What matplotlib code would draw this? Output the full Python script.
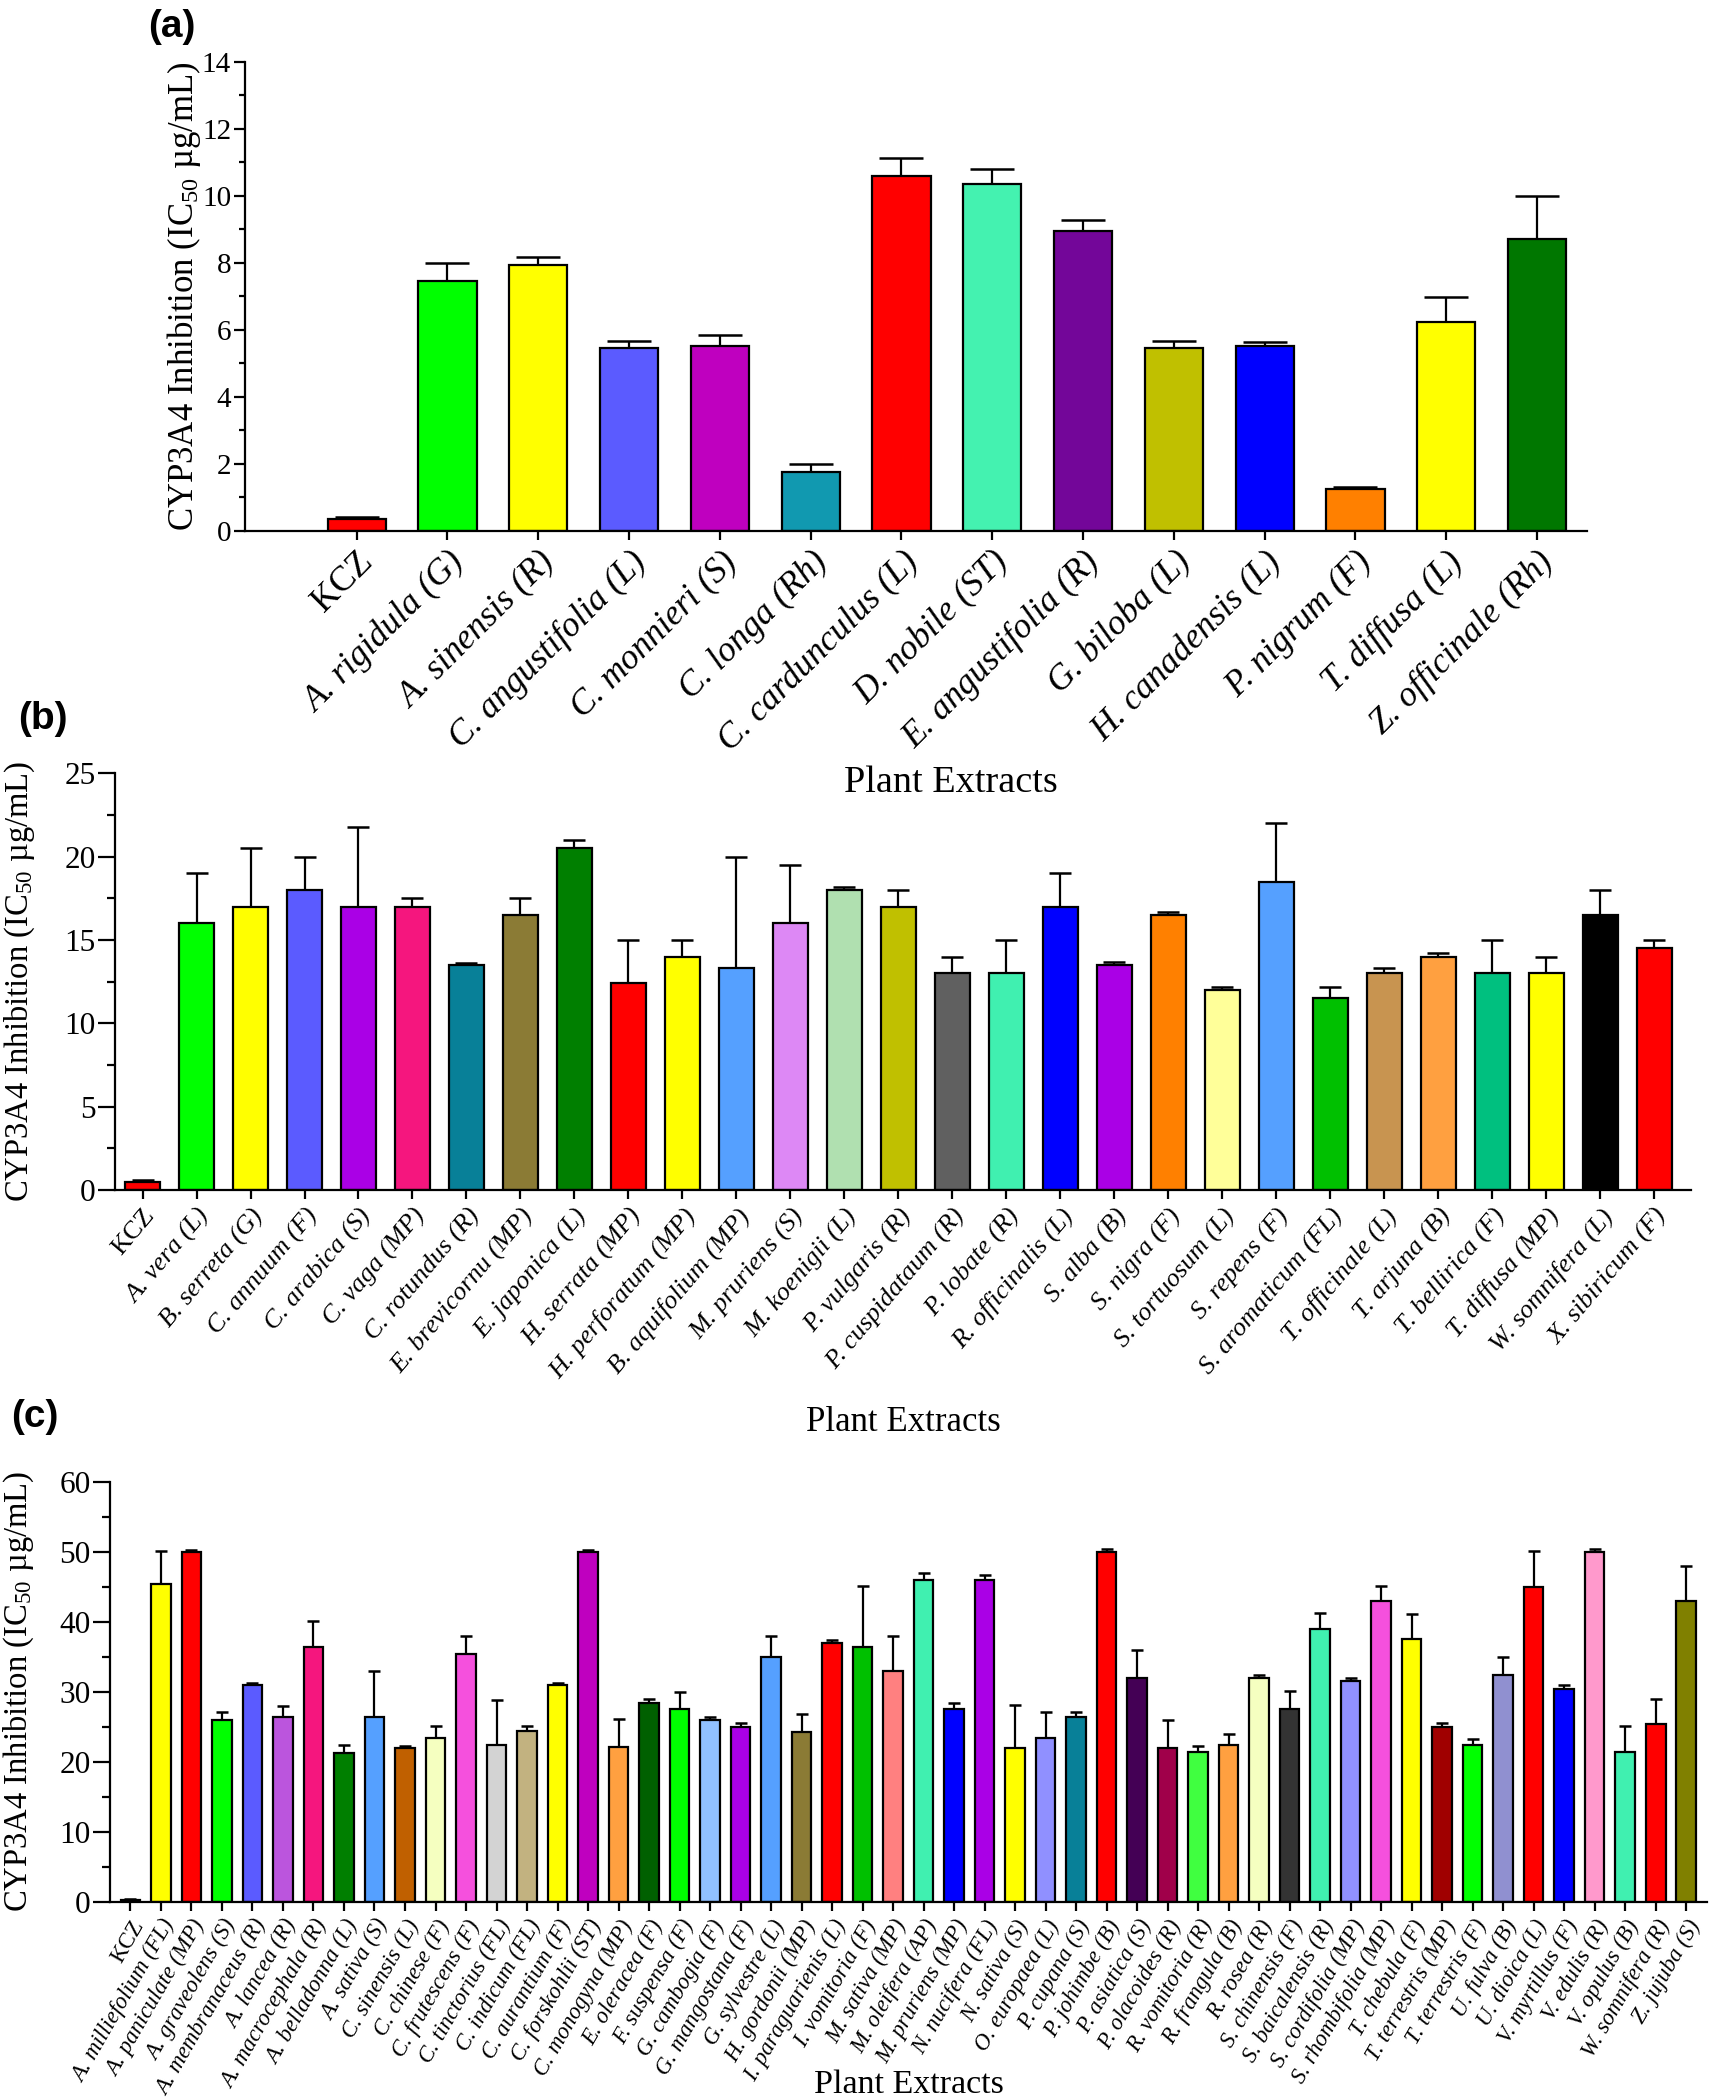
import numpy as np
import matplotlib
matplotlib.use('Agg')
import matplotlib.pyplot as plt
from matplotlib.ticker import MultipleLocator

plt.rcParams['font.family'] = ['Liberation Serif', 'DejaVu Serif']
plt.rcParams['mathtext.fontset'] = 'custom'
plt.rcParams['mathtext.rm'] = 'Liberation Serif'
plt.rcParams['mathtext.it'] = 'Liberation Serif:italic'

# %% panel (a)
names_a = ["KCZ", "A. rigidula (G)", "A. sinensis (R)", "C. angustifolia (L)", "C. monnieri (S)",
           "C. longa (Rh)", "C. cardunculus (L)", "D. nobile (ST)", "E. angustifolia (R)",
           "G. biloba (L)", "H. canadensis (L)", "P. nigrum (F)", "T. diffusa (L)", "Z. officinale (Rh)"]
ic50_a = [0.36, 7.45, 7.95, 5.45, 5.52, 1.76, 10.6, 10.35, 8.96, 5.45, 5.52, 1.25, 6.23, 8.7]
sd_a = [0.05, 0.55, 0.23, 0.23, 0.33, 0.23, 0.54, 0.44, 0.31, 0.23, 0.13, 0.05, 0.76, 1.29]
colors_a = ["#FF0000", "#00FF00", "#FFFF00", "#5B5BFF", "#BF00BF", "#1199B0", "#FF0000",
            "#44F2B0", "#730699", "#C0C000", "#0000FF", "#FF8000", "#FFFF00", "#007700"]

# %% panel (b)
names_b = ["KCZ", "A. vera (L)", "B. serreta (G)", "C. annuum (F)", "C. arabica (S)", "C. vaga (MP)",
           "C. rotundus (R)", "E. brevicornu (MP)", "E. japonica (L)", "H. serrata (MP)",
           "H. perforatum (MP)", "B. aquifolium (MP)", "M. pruriens (S)", "M. koenigii (L)",
           "P. vulgaris (R)", "P. cuspidataum (R)", "P. lobate (R)", "R. officinalis (L)",
           "S. alba (B)", "S. nigra (F)", "S. tortuosum (L)", "S. repens (F)", "S. aromaticum (FL)",
           "T. officinale (L)", "T. arjuna (B)", "T. bellirica (F)", "T. diffusa (MP)",
           "W. somnifera (L)", "X. sibiricum (F)"]
ic50_b = [0.5, 16, 17, 18, 17, 17, 13.5, 16.5, 20.5, 12.4, 14, 13.3, 16, 18, 17, 13, 13, 17,
          13.5, 16.5, 12, 18.5, 11.5, 13, 14, 13, 13, 16.5, 14.5]
sd_b = [0.1, 3, 3.5, 2, 4.8, 0.5, 0.1, 1, 0.5, 2.6, 1, 6.7, 3.5, 0.2, 1, 1, 2, 2, 0.2, 0.2,
        0.2, 3.5, 0.7, 0.3, 0.2, 2, 1, 1.5, 0.5]
colors_b = ["#FF0000", "#00FF00", "#FFFF00", "#5B5BFF", "#AA00E6", "#F5167E", "#088098",
            "#8B7B35", "#007F00", "#FF0000", "#FFFF00", "#55A0FF", "#DD88F5", "#B0E0B0",
            "#C0C000", "#606060", "#40F0B0", "#0000FF", "#AA00E6", "#FF8000", "#FFFF99",
            "#55A0FF", "#00C000", "#C89450", "#FFA040", "#00C07F", "#FFFF00", "#000000", "#FF0000"]

# %% panel (c)
names_c = ["KCZ", "A. milliefolium (FL)", "A. paniculate (MP)", "A. graveolens (S)",
           "A. membranaceus (R)", "A. lancea (R)", "A. macrocephala (R)", "A. belladonna (L)",
           "A. sativa (S)", "C. sinensis (L)", "C. chinese (F)", "C. frutescens (F)",
           "C. tinctorius (FL)", "C. indicum (FL)", "C. aurantium (F)", "C. forskohlii (ST)",
           "C. monogyna (MP)", "E. oleracea (F)", "F. suspensa (F)", "G. cambogia (F)",
           "G. mangostana (F)", "G. sylvestre (L)", "H. gordonii (MP)", "I. paraguarienis (L)",
           "I. vomitoria (F)", "M. sativa (MP)", "M. oleifera (AP)", "M. pruriens (MP)",
           "N. nucifera (FL)", "N. sativa (S)", "O. europaea (L)", "P. cupana (S)",
           "P. johimbe (B)", "P. asiatica (S)", "P. olacoides (R)", "R. vomitoria (R)",
           "R. frangula (B)", "R. rosea (R)", "S. chinensis (F)", "S. baicalensis (R)",
           "S. cordifolia (MP)", "S. rhombifolia (MP)", "T. chebula (F)", "T. terrestris (MP)",
           "T. terrestris (F)", "U. fulva (B)", "U. dioica (L)", "V. myrtillus (F)",
           "V. edulis (R)", "V. opulus (B)", "W. somnifera (R)", "Z. jujuba (S)"]
ic50_c = [0.3, 45.4, 50, 25.9, 31, 26.4, 36.4, 21.2, 26.4, 21.9, 23.4, 35.4, 22.4, 24.4, 31, 50,
          22.1, 28.4, 27.5, 25.9, 25, 34.9, 24.2, 36.9, 36.4, 33, 46, 27.5, 46, 21.9, 23.4, 26.4,
          50, 31.9, 21.9, 21.4, 22.4, 31.9, 27.5, 38.9, 31.5, 42.9, 37.5, 25, 22.4, 32.4, 45,
          30.4, 50, 21.4, 25.4, 42.9]
sd_c = [0.1, 4.7, 0.3, 1.2, 0.3, 1.6, 3.7, 1.2, 6.6, 0.3, 1.7, 2.6, 6.4, 0.7, 0.3, 0.3,
        4, 0.6, 2.5, 0.5, 0.6, 3.1, 2.6, 0.5, 8.7, 5, 0.9, 0.9, 0.7, 6.2, 3.7, 0.7,
        0.4, 4.1, 4.1, 0.8, 1.6, 0.5, 2.6, 2.4, 0.5, 2.2, 3.6, 0.6, 0.9, 2.6, 5.1,
        0.6, 0.4, 3.7, 3.6, 5.1]
colors_c = ["#FF0000", "#FFFF00", "#FF0000", "#00FF00", "#5B5BFF", "#BB55DD", "#F5167E",
            "#007F00", "#55A0FF", "#C06000", "#F5FFC0", "#F550DD", "#D3D3D3", "#C2B280",
            "#FFFF00", "#BF00BF", "#FFA040", "#006000", "#00FF00", "#90C0FF", "#AA00E6",
            "#55A0FF", "#8B7B35", "#FF0000", "#00C000", "#FF8080", "#40F0B0", "#0000FF",
            "#AA00E6", "#FFFF00", "#9090FF", "#088098", "#FF0000", "#440055", "#A0004A",
            "#40FF40", "#FFA040", "#F5FFC0", "#333333", "#40F0B0", "#9090FF", "#F550DD",
            "#FFFF00", "#A00000", "#00FF00", "#9090D0", "#FF0000", "#0000FF", "#FF99CC",
            "#40F0B0", "#FF0000", "#808000"]

ylab = r'CYP3A4 Inhibition (IC$_{50}$ µg/mL)'


def draw_panel(ax, names, vals, errs, colors, ymax, major, minor, capsize, xfs, rot,
               xlab_x, xlab_y, xlab_fs, ylab_x, ylab_y, ylab_fs, ytick_fs, xpad=(0.67, 0.68),
               ticklen=12):
    x = np.arange(len(names))
    ax.patch.set_visible(False)
    ax.bar(x, vals, width=0.64, color=colors, edgecolor='black', linewidth=1.6, zorder=2)
    ax.errorbar(x, vals, yerr=[np.zeros(len(errs)), errs], fmt='none', ecolor='black',
                elinewidth=1.6, capsize=capsize, capthick=1.8, zorder=1)
    ax.set_xlim(-xpad[0], len(names) - 1 + xpad[1])
    ax.set_ylim(0, ymax)
    ax.yaxis.set_major_locator(MultipleLocator(major))
    ax.yaxis.set_minor_locator(MultipleLocator(minor))
    ax.spines['top'].set_visible(False)
    ax.spines['right'].set_visible(False)
    ax.spines['left'].set_linewidth(1.6)
    ax.spines['bottom'].set_linewidth(1.6)
    ax.tick_params(axis='y', which='major', length=ticklen, width=1.6, labelsize=ytick_fs, pad=2)
    ax.tick_params(axis='y', which='minor', length=ticklen / 2, width=1.6)
    ax.tick_params(axis='x', length=6.5, width=1.6, pad=4)
    ax.set_xticks(x)
    ax.set_xticklabels(names, rotation=rot, ha='right', rotation_mode='anchor', fontsize=xfs,
                       style='italic')
    ax.get_xticklabels()[0].set_style('normal')
    ax.set_xlabel('Plant Extracts', fontsize=xlab_fs, va='center')
    ax.xaxis.set_label_coords(xlab_x, xlab_y)
    ax.set_ylabel(ylab, fontsize=ylab_fs, va='center')
    ax.yaxis.set_label_coords(ylab_x, ylab_y)


fig = plt.figure(figsize=(17.1, 21), dpi=100)
ax_a = fig.add_axes([245 / 1710, 1 - 531 / 2100, 1342 / 1710, 469.3 / 2100])
ax_b = fig.add_axes([115 / 1710, 1 - 1190 / 2100, 1576 / 1710, 416.7 / 2100])
ax_c = fig.add_axes([110 / 1710, 1 - 1901.7 / 2100, 1597 / 1710, 420 / 2100])

draw_panel(ax_a, names_a, ic50_a, sd_a, colors_a, 14, 2, 1, 16, 25.5, 45, (951 - 245) / 1342,
           -0.537, 27.5, (184 - 245) / 1342, 0.5, 25, 21, xpad=(1.23, 0.55), ticklen=8)
draw_panel(ax_b, names_b, ic50_b, sd_b, colors_b, 25, 5, 2.5, 8, 19, 50, 0.5, -0.557, 25,
           (20 - 115) / 1576, 0.5, 23.5, 22.5, xpad=(0.51, 0.68))
draw_panel(ax_c, names_c, ic50_c, sd_c, colors_c, 60, 10, 5, 4.5, 16.5, 60, 0.5, -0.436, 24.5,
           -0.057, 0.5, 23.5, 22.5)

fig.text(172 / 1710, 1 - 27 / 2100, '(a)', fontsize=28, fontweight='bold', family='Liberation Sans',
         ha='center', va='center')
fig.text(43 / 1710, 1 - 719 / 2100, '(b)', fontsize=28, fontweight='bold', family='Liberation Sans',
         ha='center', va='center')
fig.text(35 / 1710, 1 - 1417 / 2100, '(c)', fontsize=28, fontweight='bold', family='Liberation Sans',
         ha='center', va='center')

fig.savefig('out.png', dpi=100)
